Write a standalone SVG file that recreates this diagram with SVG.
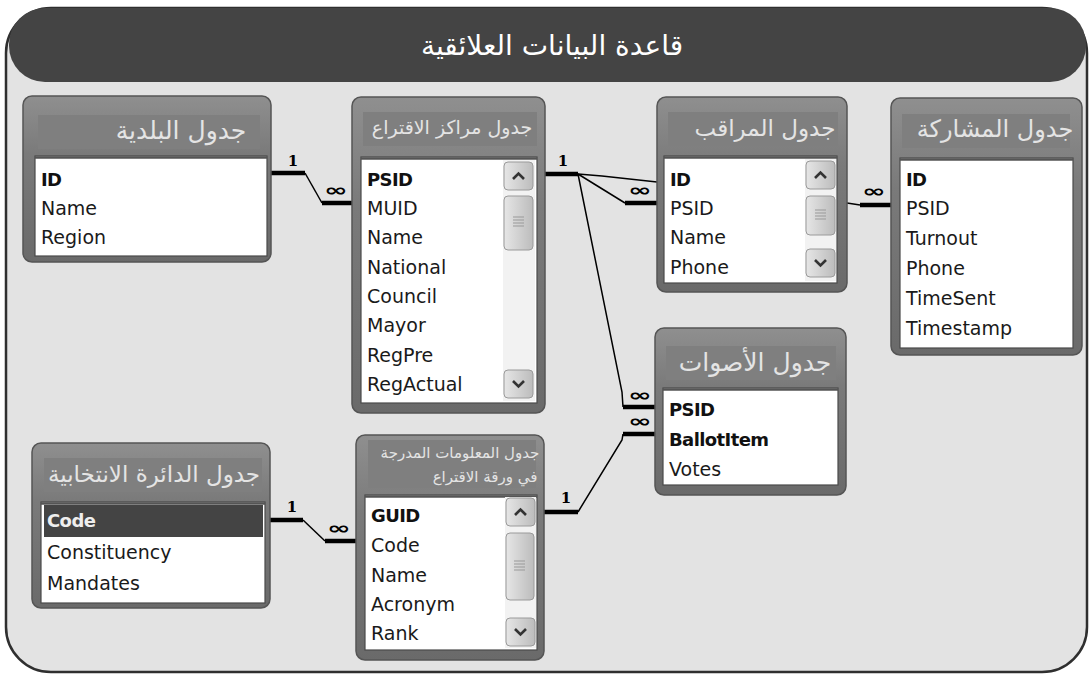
<svg xmlns="http://www.w3.org/2000/svg" width="1092" height="675" viewBox="0 0 1092 675">
<defs>
<linearGradient id="tblg" x1="0" y1="0" x2="0" y2="1">
<stop offset="0" stop-color="#8f8f8f"/>
<stop offset="0.35" stop-color="#7a7a7a"/>
<stop offset="1" stop-color="#6a6a6a"/>
</linearGradient>
<linearGradient id="btng" x1="0" y1="0" x2="1" y2="0">
<stop offset="0" stop-color="#e6e6e6"/>
<stop offset="1" stop-color="#bcbcbc"/>
</linearGradient>
<g id="up"><rect x="0" y="0" width="29" height="28" rx="4" fill="url(#btng)" stroke="#9a9a9a"/><path d="M9 17 L14.5 11.5 L20 17" fill="none" stroke="#333" stroke-width="2.6"/></g>
<g id="down"><rect x="0" y="0" width="29" height="28" rx="4" fill="url(#btng)" stroke="#9a9a9a"/><path d="M9 11 L14.5 16.5 L20 11" fill="none" stroke="#333" stroke-width="2.6"/></g>
</defs>
<style>
.frame{fill:#e3e3e3;stroke:#2f2f2f;stroke-width:2.5}
.tb{fill:url(#tblg);stroke:#555;stroke-width:1.5}
.hb{fill:#7f7f7f}
.lst{fill:#fff;stroke:#4a4a4a;stroke-width:1.2}
.lsttop{stroke:#555;stroke-width:2.5}
.f{font-family:"DejaVu Sans",sans-serif;font-size:19px;fill:#1a1a1a}
.pk{font-family:"DejaVu Sans",sans-serif;font-size:18px;font-weight:bold;fill:#111;letter-spacing:-0.6px}
.ht{font-family:"DejaVu Sans",sans-serif;fill:#e4e4e4;text-anchor:middle}
.track{fill:#f2f2f2}
.thumb{fill:url(#btng);stroke:#9a9a9a}
.grip{stroke:#999;stroke-width:1}
.thk{stroke:#000;stroke-width:4.5;fill:none}
.thn{stroke:#000;stroke-width:1.5;fill:none}
.one{font-family:"DejaVu Serif",serif;font-weight:bold;font-size:15px;fill:#000;text-anchor:middle}
.inf{font-family:"DejaVu Sans",sans-serif;font-weight:bold;font-size:17px;fill:#000;text-anchor:middle}
</style>
<rect class="frame" x="6" y="8" width="1081" height="664" rx="45"/>
<g id="title">
<rect x="9" y="8" width="1077" height="74" rx="36" fill="#444"/>
<text x="552" y="55" font-family="DejaVu Sans,sans-serif" font-size="28" fill="#fff" text-anchor="middle">قاعدة البيانات العلائقية</text>
</g>

<g id="connectors">
<path class="thk" d="M271 173 H305"/><path class="thn" d="M305 173 L322 203"/><path class="thk" d="M322 203 H352"/>
<text class="one" x="293" y="166">1</text><text class="inf" x="336" y="196" textLength="24" lengthAdjust="spacingAndGlyphs">∞</text>

<path class="thk" d="M545 174 H578"/>
<text class="one" x="563" y="166">1</text>
<path class="thn" d="M578 174 L602 176 L657 182"/>
<path class="thn" d="M578 174 L625 203"/><path class="thk" d="M625 203 H657"/>
<text class="inf" x="640" y="196" textLength="24" lengthAdjust="spacingAndGlyphs">∞</text>
<path class="thn" d="M578 174 L622 392 L623 407"/><path class="thk" d="M623 407 H655"/>
<text class="inf" x="640" y="401" textLength="24" lengthAdjust="spacingAndGlyphs">∞</text>

<path class="thn" d="M847 203 L860 205"/><path class="thk" d="M860 205 H891"/>
<text class="inf" x="874" y="197" textLength="24" lengthAdjust="spacingAndGlyphs">∞</text>

<path class="thk" d="M544 512 H578"/><path class="thn" d="M578 512 L622 440 L623 434"/><path class="thk" d="M623 434 H655"/>
<text class="one" x="566" y="503">1</text><text class="inf" x="640" y="427" textLength="24" lengthAdjust="spacingAndGlyphs">∞</text>

<path class="thk" d="M270 520 H303"/><path class="thn" d="M303 520 L325 541"/><path class="thk" d="M325 541 H356"/>
<text class="one" x="292" y="512">1</text><text class="inf" x="339" y="534" textLength="24" lengthAdjust="spacingAndGlyphs">∞</text>
</g>

<g id="municipality">
<rect class="tb" x="23" y="96" width="248" height="166" rx="9"/>
<rect class="hb" x="38" y="115" width="222" height="34"/>
<text class="ht" x="181" y="139" font-size="25">جدول البلدية</text>
<rect class="lst" x="35" y="156" width="232" height="100"/><path class="lsttop" d="M35 157.5 H267"/>
<text class="pk" x="41" y="186">ID</text>
<text class="f" x="41" y="215">Name</text>
<text class="f" x="41" y="244">Region</text>
</g>

<g id="pollingStations">
<rect class="tb" x="352" y="97" width="193" height="316" rx="9"/>
<rect class="hb" x="363" y="112" width="174" height="34"/>
<text class="ht" x="452" y="134" font-size="19">جدول مراكز الاقتراع</text>
<rect class="lst" x="361" y="157" width="176" height="246"/><path class="lsttop" d="M361 158.5 H537"/>
<rect class="track" x="503" y="160" width="32" height="241"/>
<use href="#up" x="504" y="162"/>
<rect class="thumb" x="504" y="196" width="29" height="54" rx="4"/>
<path class="grip" d="M513 217 H524 M513 220 H524 M513 223 H524 M513 226 H524"/>
<use href="#down" x="504" y="370"/>
<text class="pk" x="367" y="186">PSID</text>
<text class="f" x="367" y="215">MUID</text>
<text class="f" x="367" y="244">Name</text>
<text class="f" x="367" y="274">National</text>
<text class="f" x="367" y="303">Council</text>
<text class="f" x="367" y="332">Mayor</text>
<text class="f" x="367" y="362">RegPre</text>
<text class="f" x="367" y="391">RegActual</text>
</g>

<g id="observer">
<rect class="tb" x="657" y="97" width="190" height="195" rx="9"/>
<rect class="hb" x="668" y="112" width="170" height="34"/>
<text class="ht" x="765" y="136" font-size="23">جدول المراقب</text>
<rect class="lst" x="664" y="156" width="173" height="127"/><path class="lsttop" d="M664 157.5 H837"/>
<rect class="track" x="805" y="159" width="31" height="122"/>
<use href="#up" x="806" y="161"/>
<rect class="thumb" x="806" y="196" width="29" height="39" rx="4"/>
<path class="grip" d="M815 210 H826 M815 213 H826 M815 216 H826 M815 219 H826"/>
<use href="#down" x="806" y="249"/>
<text class="pk" x="670" y="186">ID</text>
<text class="f" x="670" y="215">PSID</text>
<text class="f" x="670" y="244">Name</text>
<text class="f" x="670" y="274">Phone</text>
</g>

<g id="participation">
<rect class="tb" x="891" y="98" width="191" height="257" rx="9"/>
<rect class="hb" x="902" y="114" width="168" height="34"/>
<text class="ht" x="995" y="137" font-size="24">جدول المشاركة</text>
<rect class="lst" x="900" y="158" width="173" height="190"/><path class="lsttop" d="M900 159.5 H1073"/>
<text class="pk" x="906" y="186">ID</text>
<text class="f" x="906" y="215">PSID</text>
<text class="f" x="906" y="245">Turnout</text>
<text class="f" x="906" y="275">Phone</text>
<text class="f" x="906" y="305">TimeSent</text>
<text class="f" x="906" y="335">Timestamp</text>
</g>

<g id="votes">
<rect class="tb" x="655" y="328" width="191" height="167" rx="9"/>
<rect class="hb" x="666" y="346" width="170" height="34"/>
<text class="ht" x="755" y="371" font-size="25">جدول الأصوات</text>
<rect class="lst" x="663" y="388" width="175" height="97"/><path class="lsttop" d="M663 389.5 H838"/>
<text class="pk" x="669" y="416">PSID</text>
<text class="pk" x="669" y="446">BallotItem</text>
<text class="f" x="669" y="476">Votes</text>
</g>

<g id="constituency">
<rect class="tb" x="32" y="443" width="238" height="165" rx="9"/>
<rect class="hb" x="44" y="458" width="218" height="34"/>
<text class="ht" x="154" y="482" font-size="23">جدول الدائرة الانتخابية</text>
<rect class="lst" x="41" y="502" width="224" height="101"/><path class="lsttop" d="M41 503.5 H265"/>
<rect x="44" y="505" width="219" height="32" fill="#444"/>
<text class="pk" x="47" y="527" style="fill:#eee">Code</text>
<text class="f" x="47" y="559">Constituency</text>
<text class="f" x="47" y="590">Mandates</text>
</g>

<g id="ballotItems">
<rect class="tb" x="356" y="435" width="188" height="225" rx="9"/>
<rect class="hb" x="368" y="440" width="168" height="48"/>
<text class="ht" x="460" y="458" font-size="15">جدول المعلومات المدرجة</text>
<text class="ht" x="485" y="482" font-size="15">في ورقة الاقتراع</text>
<rect class="lst" x="365" y="495" width="172" height="155"/><path class="lsttop" d="M365 496.5 H537"/>
<rect class="track" x="505" y="497" width="31" height="151"/>
<use href="#up" x="506" y="498"/>
<rect class="thumb" x="506" y="533" width="28" height="67" rx="4"/>
<path class="grip" d="M514 561 H525 M514 564 H525 M514 567 H525 M514 570 H525"/>
<use href="#down" x="506" y="618"/>
<text class="pk" x="371" y="522">GUID</text>
<text class="f" x="371" y="552">Code</text>
<text class="f" x="371" y="582">Name</text>
<text class="f" x="371" y="611">Acronym</text>
<text class="f" x="371" y="640">Rank</text>
</g>
</svg>
